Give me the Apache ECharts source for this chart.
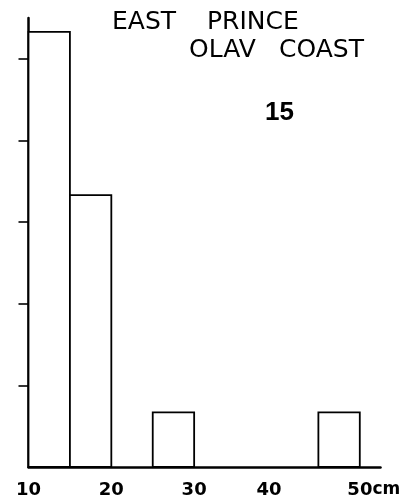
<!DOCTYPE html>
<html>
<head>
<meta charset="utf-8">
<script src="https://cdn.jsdelivr.net/npm/echarts@6/dist/echarts.min.js"></script>
<style>html,body{margin:0;padding:0;background:#fff}#c{width:405px;height:500px}</style>
</head>
<body>
<div id="c"></div>
<script>
// Size-class histogram (cm), percentage of the sample (n = 15)
var binStart = [10, 15, 25, 45];
var binEnd   = [15, 20, 30, 50];
var percent  = [53.3, 33.3, 6.7, 6.7];
var xTickLabels = [10, 20, 30, 40, 50];
var yTicks = [10, 20, 30, 40, 50];
var titleLine1 = ['EAST', 'PRINCE'];
var titleLine2 = ['OLAV', 'COAST'];
var sampleSize = '15';

var data = binStart.map(function (s, i) { return [s, binEnd[i], percent[i]]; });

var chart = echarts.init(document.getElementById('c'), null, {renderer: 'canvas'});
var titleFont = {fontFamily: 'DejaVu Sans', fontSize: 25, fill: '#000', verticalAlign: 'middle', align: 'left'};
function t(text, x, y, extra) {
  var st = Object.assign({}, titleFont, {text: text, x: x, y: y}, extra || {});
  return {type: 'text', style: st, z: 10};
}
chart.setOption({
  animation: false,
  backgroundColor: '#fff',
  grid: {left: 28.5, right: 24.5, top: 18, bottom: 33},
  xAxis: {
    type: 'value', min: 10, max: 52.5,
    splitLine: {show: false},
    axisTick: {show: false},
    axisLine: {show: true, onZero: false, lineStyle: {color: '#000', width: 2.5}},
    axisLabel: {
      customValues: xTickLabels,
      margin: 12,
      color: '#000', fontFamily: 'DejaVu Sans', fontWeight: 'bold', fontSize: 18,
      formatter: function (v) {
        if (v === 40) return '{n|40}{s|}';
        if (v === 50) return '{p|}{n|50}{u|cm}';
        return '{n|' + v + '}';
      },
      rich: {
        n: {fontFamily: 'DejaVu Sans', fontWeight: 'bold', fontSize: 18, lineHeight: 22, color: '#000'},
        u: {fontFamily: 'DejaVu Sans', fontWeight: 'bold', fontSize: 17, lineHeight: 22, color: '#000'},
        p: {width: 28, lineHeight: 22},
        s: {width: 16, lineHeight: 22}
      }
    }
  },
  yAxis: {
    type: 'value', min: 0, max: 55,
    splitLine: {show: false},
    axisLine: {show: true, lineStyle: {color: '#000', width: 2.5}},
    axisTick: {show: true, inside: false, length: 10, customValues: yTicks, lineStyle: {color: '#000', width: 1.6}},
    axisLabel: {show: false}
  },
  series: [{
    type: 'custom',
    data: data,
    encode: {x: [0, 1], y: 2},
    renderItem: function (params, api) {
      var p0 = api.coord([api.value(0), api.value(2)]);
      var p1 = api.coord([api.value(1), 0]);
      return {
        type: 'rect',
        shape: {x: p0[0], y: p0[1], width: p1[0] - p0[0], height: p1[1] - p0[1]},
        style: {fill: '#fff', stroke: '#000', lineWidth: 1.8}
      };
    }
  }],
  graphic: [
    t(titleLine1[0], 112, 22),
    t(titleLine1[1], 207, 22),
    t(titleLine2[0], 189, 50),
    t(titleLine2[1], 279, 50),
    t(sampleSize, 265, 113, {fontFamily: 'Liberation Sans', fontWeight: 'bold', fontSize: 26})
  ]
});
</script>
</body>
</html>
